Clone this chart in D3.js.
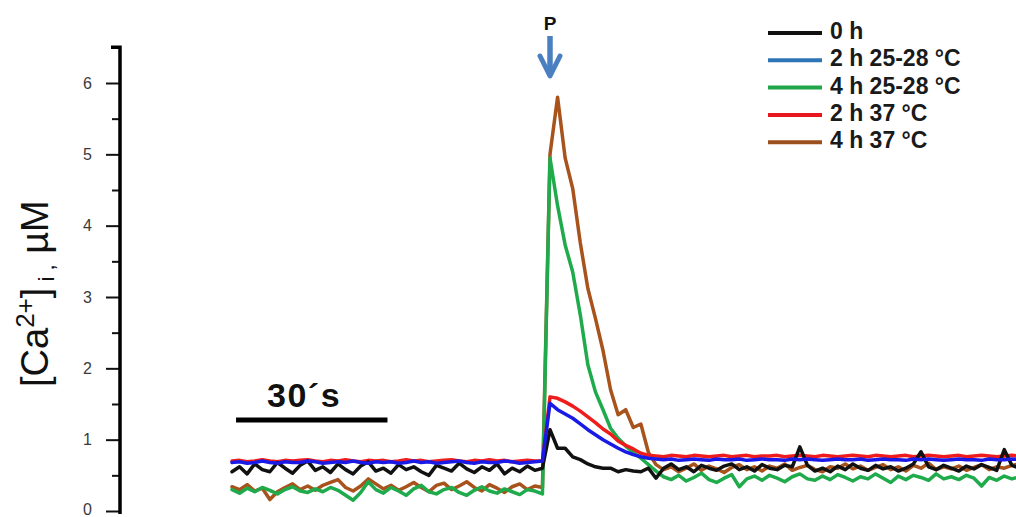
<!DOCTYPE html>
<html>
<head>
<meta charset="utf-8">
<script src="https://cdn.jsdelivr.net/npm/d3@7"></script>
<style>
  body { margin: 0; background: #fff; }
  svg { display: block; font-family: "Liberation Sans", Arial, sans-serif; }
</style>
</head>
<body>
<svg id="chart" width="1016" height="517"></svg>
<script>
// Sampling interval of the recorded traces (seconds between points)
const sampleStep = 1.5;
// Time (s) at which the stimulus P is applied
const stimulusTime = 63;
const stimulusLabel = "P";
// Time scale bar
const scaleBarStart = 0.8;
const scaleBarLength = 30;
const scaleBarLabel = "30´s";

const yTicks = [0, 1, 2, 3, 4, 5, 6];
const yMinorTicks = [0.5, 1.5, 2.5, 3.5, 4.5, 5.5];

const seriesNames = ["0 h", "2 h 25-28 °C", "4 h 25-28 °C", "2 h 37 °C", "4 h 37 °C"];

// [Ca2+]i, µM
const trace0h = [
  0.55,0.62,0.52,0.66,0.58,0.55,0.68,0.60,0.53,0.64,
  0.70,0.57,0.62,0.54,0.66,0.58,0.52,0.63,0.69,0.56,
  0.60,0.53,0.65,0.58,0.62,0.55,0.50,0.64,0.60,0.56,
  0.67,0.59,0.54,0.62,0.57,0.66,0.52,0.60,0.55,0.63,
  0.57,0.60,
  1.14,0.88,0.88,0.76,0.72,0.66,0.62,0.60,0.60,0.55,0.58,0.56,0.55,0.60,
  0.46,0.60,0.66,0.58,0.62,0.55,0.64,0.60,0.57,0.63,
  0.66,0.58,0.62,0.56,0.65,0.60,0.58,0.64,0.62,0.90,
  0.64,0.56,0.60,0.55,0.63,0.58,0.66,0.60,0.57,0.64,
  0.59,0.62,0.56,0.60,0.66,0.83,0.62,0.58,0.64,0.60,
  0.56,0.63,0.59,0.65,0.61,0.57,0.86,0.64,0.60
];
const trace2h25 = [
  0.68,0.69,0.67,0.68,0.70,0.68,0.67,0.69,0.68,0.68,
  0.70,0.69,0.67,0.68,0.69,0.68,0.70,0.68,0.67,0.69,
  0.68,0.69,0.67,0.68,0.70,0.68,0.69,0.67,0.68,0.69,
  0.70,0.68,0.67,0.69,0.68,0.68,0.70,0.69,0.67,0.68,
  0.69,0.70,
  1.51,1.42,1.36,1.30,1.22,1.14,1.07,1.00,0.94,0.88,0.83,0.79,0.76,0.74,
  0.73,0.72,0.73,0.71,0.72,0.73,0.72,0.71,0.73,0.72,
  0.72,0.73,0.71,0.72,0.73,0.72,0.72,0.71,0.73,0.72,
  0.73,0.72,0.71,0.72,0.73,0.72,0.72,0.73,0.71,0.72,
  0.73,0.72,0.72,0.71,0.73,0.72,0.73,0.72,0.71,0.72,
  0.73,0.72,0.72,0.71,0.73,0.72,0.72,0.73,0.72
];
const trace4h25 = [
  0.30,0.25,0.32,0.27,0.33,0.29,0.24,0.30,0.34,0.28,
  0.26,0.31,0.27,0.33,0.29,0.22,0.15,0.26,0.41,0.30,
  0.25,0.33,0.28,0.22,0.31,0.36,0.27,0.24,0.30,0.33,
  0.26,0.22,0.29,0.34,0.28,0.25,0.31,0.27,0.23,0.30,
  0.28,0.24,
  4.95,4.28,3.73,3.35,2.75,2.05,1.67,1.42,1.16,1.02,0.91,0.82,0.74,0.65,
  0.56,0.48,0.44,0.50,0.42,0.47,0.53,0.44,0.40,0.46,
  0.51,0.34,0.45,0.49,0.43,0.50,0.46,0.41,0.48,0.52,
  0.45,0.43,0.49,0.44,0.51,0.47,0.42,0.48,0.45,0.52,
  0.46,0.40,0.49,0.44,0.50,0.47,0.43,0.52,0.45,0.48,
  0.44,0.50,0.46,0.35,0.47,0.43,0.49,0.45,0.48
];
const trace2h37 = [
  0.70,0.71,0.69,0.70,0.72,0.70,0.69,0.71,0.70,0.71,
  0.72,0.70,0.69,0.71,0.70,0.72,0.70,0.69,0.71,0.70,
  0.71,0.69,0.70,0.72,0.70,0.71,0.69,0.70,0.71,0.72,
  0.70,0.69,0.71,0.70,0.72,0.70,0.71,0.69,0.70,0.71,
  0.70,0.70,
  1.60,1.58,1.53,1.47,1.40,1.32,1.24,1.15,1.08,0.98,0.92,0.87,0.81,0.78,
  0.77,0.76,0.78,0.77,0.76,0.78,0.77,0.76,0.77,0.78,
  0.76,0.77,0.78,0.76,0.77,0.77,0.78,0.76,0.77,0.78,
  0.77,0.76,0.78,0.77,0.76,0.77,0.78,0.77,0.76,0.78,
  0.77,0.76,0.77,0.78,0.76,0.77,0.78,0.77,0.76,0.77,
  0.78,0.76,0.77,0.78,0.77,0.76,0.77,0.78,0.77
];
const trace4h37 = [
  0.34,0.30,0.37,0.28,0.32,0.16,0.27,0.33,0.38,0.30,
  0.35,0.29,0.36,0.40,0.44,0.33,0.28,0.35,0.45,0.38,
  0.31,0.36,0.29,0.34,0.40,0.33,0.27,0.36,0.39,0.30,
  0.35,0.41,0.33,0.28,0.37,0.32,0.26,0.34,0.38,0.30,
  0.35,0.33,
  5.00,5.80,4.95,4.52,3.76,3.12,2.70,2.25,1.70,1.35,1.42,1.17,1.22,0.82,
  0.65,0.58,0.62,0.55,0.60,0.66,0.57,0.63,0.59,0.54,
  0.61,0.65,0.58,0.62,0.56,0.63,0.60,0.66,0.57,0.61,
  0.64,0.58,0.55,0.62,0.60,0.66,0.59,0.63,0.57,0.61,
  0.65,0.58,0.62,0.56,0.64,0.60,0.67,0.58,0.62,0.59,
  0.63,0.57,0.61,0.65,0.58,0.62,0.60,0.64,0.66
];

const traces = [trace0h, trace2h25, trace4h25, trace2h37, trace4h37];
const traceColors  = ["#111111", "#1a1ae6", "#1faa4b", "#ee1c1c", "#a8521c"];
const legendColors = ["#111111", "#2e75b6", "#21a64a", "#e8171d", "#9b4f1c"];
// Paint order: brown, green, red, black, blue (blue ends on top)
const drawOrder = [4, 2, 3, 0, 1];

const svg = d3.select("#chart");

const x = d3.scaleLinear().domain([0, 157.5]).range([232, 1027]);
const y = d3.scaleLinear().domain([0, 6]).range([511, 83]);

// ---- y axis ----
const axisX = 120;
const yAxis = d3.axisLeft(y)
  .tickValues(yTicks)
  .tickSize(14)
  .tickPadding(14)
  .tickFormat(d3.format("d"));
const gAxis = svg.append("g").attr("transform", `translate(${axisX},0)`).call(yAxis);
gAxis.select(".domain").remove();
gAxis.selectAll(".tick line").attr("stroke", "#111").attr("stroke-width", 2);
gAxis.selectAll(".tick text")
  .attr("fill", "#3a3a3a")
  .style("font-size", "16px")
  .style("font-family", "'Liberation Sans', Arial, sans-serif");
// the lowest label sits right at the lower border
gAxis.selectAll(".tick text").filter(d => d === 0).attr("dy", "0.2em");

const yMinor = d3.axisLeft(y).tickValues(yMinorTicks).tickSize(8).tickFormat("");
const gMinor = svg.append("g").attr("transform", `translate(${axisX},0)`).call(yMinor);
gMinor.select(".domain").remove();
gMinor.selectAll(".tick line").attr("stroke", "#111").attr("stroke-width", 2);

svg.append("path")
  .attr("d", `M${axisX - 9},${y(6.5)}H${axisX}V${y(0) + 3}`)
  .attr("fill", "none")
  .attr("stroke", "#000")
  .attr("stroke-width", 3.5);

// y axis title: [Ca2+]i, µM
const yTitle = svg.append("text")
  .attr("transform", "translate(48,387) rotate(-90)")
  .attr("fill", "#111")
  .style("font-size", "38px");
yTitle.append("tspan").text("[Ca");
yTitle.append("tspan").attr("dy", -14).style("font-size", "26px").text("2+");
yTitle.append("tspan").attr("dy", 14).text("]");
yTitle.append("tspan").attr("dy", 6).style("font-size", "22px").text(" i ,");
yTitle.append("tspan").attr("dy", -6).text("  µM");

// ---- traces ----
const line = d3.line()
  .x((d, i) => x(i * sampleStep))
  .y(d => y(d))
  .curve(d3.curveLinear);

svg.append("g")
  .selectAll("path")
  .data(drawOrder)
  .join("path")
  .attr("d", k => line(traces[k]))
  .attr("fill", "none")
  .attr("stroke", k => traceColors[k])
  .attr("stroke-width", 3.5)
  .attr("stroke-linejoin", "round")
  .attr("stroke-linecap", "round");

// ---- time scale bar ----
svg.append("line")
  .attr("x1", x(scaleBarStart)).attr("x2", x(scaleBarStart + scaleBarLength))
  .attr("y1", 420).attr("y2", 420)
  .attr("stroke", "#000").attr("stroke-width", 5);
svg.append("text")
  .attr("x", 267).attr("y", 407)
  .attr("fill", "#111")
  .style("font-size", "34px").style("font-weight", "bold")
  .style("letter-spacing", "1.5px")
  .text(scaleBarLabel);

// ---- stimulus marker ----
const sx = x(stimulusTime);
svg.append("text")
  .attr("x", sx).attr("y", 30)
  .attr("text-anchor", "middle")
  .attr("fill", "#111")
  .style("font-size", "19px").style("font-weight", "bold")
  .text(stimulusLabel);
const arrowColor = "#4a7fc0";
svg.append("line")
  .attr("x1", sx).attr("x2", sx).attr("y1", 36).attr("y2", 74)
  .attr("stroke", arrowColor).attr("stroke-width", 5.5);
svg.append("path")
  .attr("d", `M${sx - 10},${56}L${sx},${76}L${sx + 10},${56}`)
  .attr("fill", "none").attr("stroke", arrowColor).attr("stroke-width", 5)
  .attr("stroke-linejoin", "round").attr("stroke-linecap", "round");

// ---- legend ----
const legend = svg.append("g").attr("transform", "translate(768,39)");
const rowH = 27.3;
seriesNames.forEach((name, i) => {
  const g = legend.append("g").attr("transform", `translate(0,${i * rowH})`);
  g.append("line")
    .attr("x1", 0).attr("x2", 54).attr("y1", -6).attr("y2", -6)
    .attr("stroke", legendColors[i]).attr("stroke-width", 4);
  g.append("text")
    .attr("x", 62).attr("y", 0)
    .attr("fill", "#1a1a1a")
    .style("font-size", "23px").style("font-weight", "bold")
    .text(name);
});
</script>
</body>
</html>
